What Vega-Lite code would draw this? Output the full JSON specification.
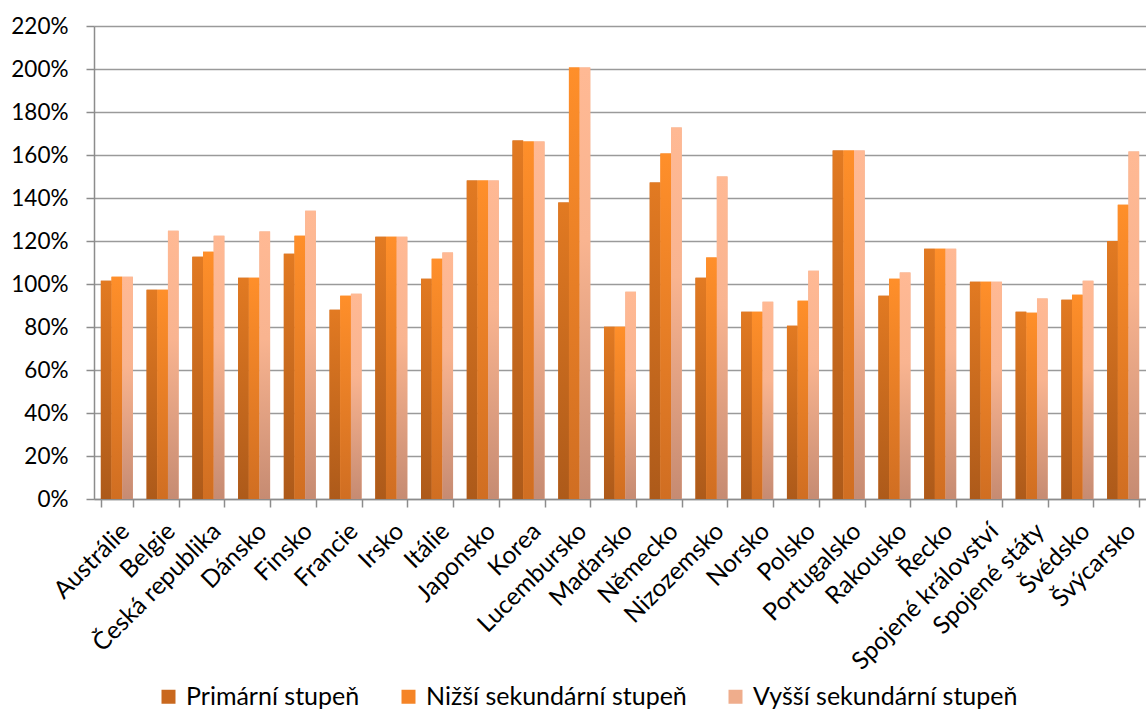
{
  "$schema": "https://vega.github.io/schema/vega-lite/v6.json",
  "autosize": "none",
  "width": 1052,
  "height": 473,
  "padding": {"left": 94, "top": 26, "right": 0, "bottom": 210},
  "background": "white",
  "config": {
    "font": "Lato",
    "view": {"stroke": null},
    "axis": {"labelFont": "Lato", "labelColor": "#000000", "titleFont": "Lato"},
    "legend": {"labelFont": "Lato"}
  },
  "data": {
    "values": [
      {"c": "Austrálie", "s": "Primární stupeň", "v": 1.015},
      {"c": "Austrálie", "s": "Nižší sekundární stupeň", "v": 1.034},
      {"c": "Austrálie", "s": "Vyšší sekundární stupeň", "v": 1.034},
      {"c": "Belgie", "s": "Primární stupeň", "v": 0.973},
      {"c": "Belgie", "s": "Nižší sekundární stupeň", "v": 0.973},
      {"c": "Belgie", "s": "Vyšší sekundární stupeň", "v": 1.248},
      {"c": "Česká republika", "s": "Primární stupeň", "v": 1.127},
      {"c": "Česká republika", "s": "Nižší sekundární stupeň", "v": 1.150},
      {"c": "Česká republika", "s": "Vyšší sekundární stupeň", "v": 1.225},
      {"c": "Dánsko", "s": "Primární stupeň", "v": 1.029},
      {"c": "Dánsko", "s": "Nižší sekundární stupeň", "v": 1.029},
      {"c": "Dánsko", "s": "Vyšší sekundární stupeň", "v": 1.244},
      {"c": "Finsko", "s": "Primární stupeň", "v": 1.141},
      {"c": "Finsko", "s": "Nižší sekundární stupeň", "v": 1.225},
      {"c": "Finsko", "s": "Vyšší sekundární stupeň", "v": 1.341},
      {"c": "Francie", "s": "Primární stupeň", "v": 0.880},
      {"c": "Francie", "s": "Nižší sekundární stupeň", "v": 0.945},
      {"c": "Francie", "s": "Vyšší sekundární stupeň", "v": 0.955},
      {"c": "Irsko", "s": "Primární stupeň", "v": 1.220},
      {"c": "Irsko", "s": "Nižší sekundární stupeň", "v": 1.220},
      {"c": "Irsko", "s": "Vyšší sekundární stupeň", "v": 1.220},
      {"c": "Itálie", "s": "Primární stupeň", "v": 1.025},
      {"c": "Itálie", "s": "Nižší sekundární stupeň", "v": 1.118},
      {"c": "Itálie", "s": "Vyšší sekundární stupeň", "v": 1.146},
      {"c": "Japonsko", "s": "Primární stupeň", "v": 1.481},
      {"c": "Japonsko", "s": "Nižší sekundární stupeň", "v": 1.481},
      {"c": "Japonsko", "s": "Vyšší sekundární stupeň", "v": 1.481},
      {"c": "Korea", "s": "Primární stupeň", "v": 1.667},
      {"c": "Korea", "s": "Nižší sekundární stupeň", "v": 1.663},
      {"c": "Korea", "s": "Vyšší sekundární stupeň", "v": 1.663},
      {"c": "Lucembursko", "s": "Primární stupeň", "v": 1.379},
      {"c": "Lucembursko", "s": "Nižší sekundární stupeň", "v": 2.007},
      {"c": "Lucembursko", "s": "Vyšší sekundární stupeň", "v": 2.007},
      {"c": "Maďarsko", "s": "Primární stupeň", "v": 0.801},
      {"c": "Maďarsko", "s": "Nižší sekundární stupeň", "v": 0.801},
      {"c": "Maďarsko", "s": "Vyšší sekundární stupeň", "v": 0.964},
      {"c": "Německo", "s": "Primární stupeň", "v": 1.472},
      {"c": "Německo", "s": "Nižší sekundární stupeň", "v": 1.607},
      {"c": "Německo", "s": "Vyšší sekundární stupeň", "v": 1.728},
      {"c": "Nizozemsko", "s": "Primární stupeň", "v": 1.029},
      {"c": "Nizozemsko", "s": "Nižší sekundární stupeň", "v": 1.123},
      {"c": "Nizozemsko", "s": "Vyšší sekundární stupeň", "v": 1.500},
      {"c": "Norsko", "s": "Primární stupeň", "v": 0.871},
      {"c": "Norsko", "s": "Nižší sekundární stupeň", "v": 0.871},
      {"c": "Norsko", "s": "Vyšší sekundární stupeň", "v": 0.918},
      {"c": "Polsko", "s": "Primární stupeň", "v": 0.806},
      {"c": "Polsko", "s": "Nižší sekundární stupeň", "v": 0.922},
      {"c": "Polsko", "s": "Vyšší sekundární stupeň", "v": 1.062},
      {"c": "Portugalsko", "s": "Primární stupeň", "v": 1.621},
      {"c": "Portugalsko", "s": "Nižší sekundární stupeň", "v": 1.621},
      {"c": "Portugalsko", "s": "Vyšší sekundární stupeň", "v": 1.621},
      {"c": "Rakousko", "s": "Primární stupeň", "v": 0.945},
      {"c": "Rakousko", "s": "Nižší sekundární stupeň", "v": 1.025},
      {"c": "Rakousko", "s": "Vyšší sekundární stupeň", "v": 1.053},
      {"c": "Řecko", "s": "Primární stupeň", "v": 1.164},
      {"c": "Řecko", "s": "Nižší sekundární stupeň", "v": 1.164},
      {"c": "Řecko", "s": "Vyšší sekundární stupeň", "v": 1.164},
      {"c": "Spojené království", "s": "Primární stupeň", "v": 1.011},
      {"c": "Spojené království", "s": "Nižší sekundární stupeň", "v": 1.011},
      {"c": "Spojené království", "s": "Vyšší sekundární stupeň", "v": 1.011},
      {"c": "Spojené státy", "s": "Primární stupeň", "v": 0.871},
      {"c": "Spojené státy", "s": "Nižší sekundární stupeň", "v": 0.866},
      {"c": "Spojené státy", "s": "Vyšší sekundární stupeň", "v": 0.932},
      {"c": "Švédsko", "s": "Primární stupeň", "v": 0.927},
      {"c": "Švédsko", "s": "Nižší sekundární stupeň", "v": 0.950},
      {"c": "Švédsko", "s": "Vyšší sekundární stupeň", "v": 1.015},
      {"c": "Švýcarsko", "s": "Primární stupeň", "v": 1.200},
      {"c": "Švýcarsko", "s": "Nižší sekundární stupeň", "v": 1.369},
      {"c": "Švýcarsko", "s": "Vyšší sekundární stupeň", "v": 1.616}
    ]
  },
  "encoding": {
    "x": {
      "field": "c",
      "type": "nominal",
      "sort": null,
      "title": null,
      "scale": {"paddingInner": 0.3, "paddingOuter": 0.15},
      "axis": {
        "labelAngle": -45,
        "labelFontSize": 24.5,
        "labelPadding": 12,
        "labelLimit": 400,
        "tickBand": "extent",
        "tickSize": 8,
        "tickColor": "#8c8c8c",
        "tickWidth": 1.5,
        "domainColor": "#8c8c8c",
        "domainWidth": 1.5,
        "grid": false
      }
    },
    "xOffset": {
      "field": "s",
      "type": "nominal",
      "sort": ["Primární stupeň", "Nižší sekundární stupeň", "Vyšší sekundární stupeň"],
      "scale": {"domain": ["Primární stupeň", "Nižší sekundární stupeň", "Vyšší sekundární stupeň"], "paddingInner": 0, "paddingOuter": 0}
    },
    "y": {
      "field": "v",
      "type": "quantitative",
      "title": null,
      "scale": {"domain": [0, 2.2], "nice": false},
      "axis": {
        "values": [0, 0.2, 0.4, 0.6, 0.8, 1.0, 1.2, 1.4, 1.6, 1.8, 2.0, 2.2],
        "format": ".0%",
        "labelFontSize": 22.5,
        "labelPadding": 18,
        "tickSize": 8,
        "tickColor": "#8c8c8c",
        "tickWidth": 1.5,
        "domainColor": "#8c8c8c",
        "domainWidth": 1.5,
        "gridColor": "#9a9a9a",
        "gridWidth": 1.5
      }
    }
  },
  "layer": [
    {
      "mark": {"type": "bar"},
      "encoding": {
        "color": {
          "field": "s",
          "type": "nominal",
          "title": null,
          "sort": ["Primární stupeň", "Nižší sekundární stupeň", "Vyšší sekundární stupeň"],
          "scale": {
            "domain": ["Primární stupeň", "Nižší sekundární stupeň", "Vyšší sekundární stupeň"],
            "range": ["#c9681e", "#f58426", "#efad8c"]
          },
          "legend": {
            "orient": "none",
            "legendX": 62,
            "legendY": 658,
            "direction": "horizontal",
            "symbolType": "square",
            "symbolSize": 196,
            "symbolStrokeWidth": 0,
            "labelFontSize": 25,
            "labelOffset": 5,
            "columnPadding": 36,
            "labelLimit": 400
          }
        }
      }
    },
    {
      "transform": [{"filter": "datum.s === 'Primární stupeň'"}],
      "mark": {"type": "bar", "color": {"gradient": "linear", "x1": 0, "y1": 0, "x2": 0, "y2": 1, "stops": [{"offset": 0, "color": "#e27a22"}, {"offset": 1, "color": "#ad5a1a"}]}}
    },
    {
      "transform": [{"filter": "datum.s === 'Nižší sekundární stupeň'"}],
      "mark": {"type": "bar", "color": {"gradient": "linear", "x1": 0, "y1": 0, "x2": 0, "y2": 1, "stops": [{"offset": 0, "color": "#ff8f2a"}, {"offset": 1, "color": "#d06e22"}]}}
    },
    {
      "transform": [{"filter": "datum.s === 'Vyšší sekundární stupeň'"}],
      "mark": {"type": "bar", "color": {"gradient": "linear", "x1": 0, "y1": 0, "x2": 0, "y2": 1, "stops": [{"offset": 0, "color": "#ffb994"}, {"offset": 0.4, "color": "#f9b490"}, {"offset": 1, "color": "#c68b72"}]}}
    }
  ]
}
